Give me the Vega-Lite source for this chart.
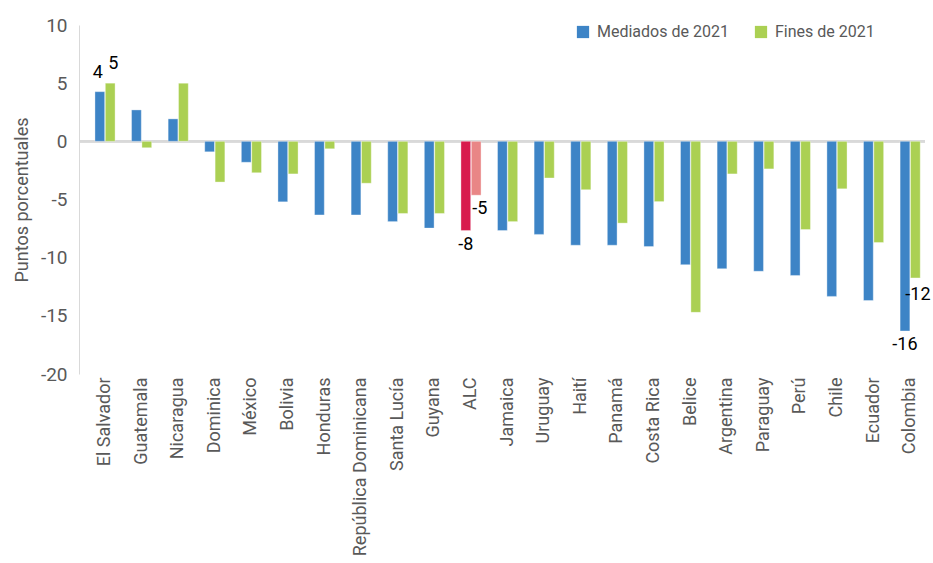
{
  "$schema": "https://vega.github.io/schema/vega-lite/v6.json",
  "width": 846,
  "height": 349,
  "autosize": {"type": "none"},
  "padding": {"left": 79, "top": 25, "right": 8, "bottom": 189},
  "background": "white",
  "config": {
    "view": {"stroke": null},
    "font": "Roboto",
    "text": {"font": "Roboto"}
  },
  "data": {
    "values": [
      {"pais": "El Salvador", "serie": "Mediados de 2021", "clave": "Mediados de 2021", "valor": 4.27, "etiqueta": "4"},
      {"pais": "El Salvador", "serie": "Fines de 2021", "clave": "Fines de 2021", "valor": 5.0, "etiqueta": "5"},
      {"pais": "Guatemala", "serie": "Mediados de 2021", "clave": "Mediados de 2021", "valor": 2.7, "etiqueta": null},
      {"pais": "Guatemala", "serie": "Fines de 2021", "clave": "Fines de 2021", "valor": -0.55, "etiqueta": null},
      {"pais": "Nicaragua", "serie": "Mediados de 2021", "clave": "Mediados de 2021", "valor": 1.93, "etiqueta": null},
      {"pais": "Nicaragua", "serie": "Fines de 2021", "clave": "Fines de 2021", "valor": 5.0, "etiqueta": null},
      {"pais": "Dominica", "serie": "Mediados de 2021", "clave": "Mediados de 2021", "valor": -0.9, "etiqueta": null},
      {"pais": "Dominica", "serie": "Fines de 2021", "clave": "Fines de 2021", "valor": -3.5, "etiqueta": null},
      {"pais": "México", "serie": "Mediados de 2021", "clave": "Mediados de 2021", "valor": -1.8, "etiqueta": null},
      {"pais": "México", "serie": "Fines de 2021", "clave": "Fines de 2021", "valor": -2.7, "etiqueta": null},
      {"pais": "Bolivia", "serie": "Mediados de 2021", "clave": "Mediados de 2021", "valor": -5.2, "etiqueta": null},
      {"pais": "Bolivia", "serie": "Fines de 2021", "clave": "Fines de 2021", "valor": -2.8, "etiqueta": null},
      {"pais": "Honduras", "serie": "Mediados de 2021", "clave": "Mediados de 2021", "valor": -6.33, "etiqueta": null},
      {"pais": "Honduras", "serie": "Fines de 2021", "clave": "Fines de 2021", "valor": -0.64, "etiqueta": null},
      {"pais": "República Dominicana", "serie": "Mediados de 2021", "clave": "Mediados de 2021", "valor": -6.33, "etiqueta": null},
      {"pais": "República Dominicana", "serie": "Fines de 2021", "clave": "Fines de 2021", "valor": -3.6, "etiqueta": null},
      {"pais": "Santa Lucía", "serie": "Mediados de 2021", "clave": "Mediados de 2021", "valor": -6.9, "etiqueta": null},
      {"pais": "Santa Lucía", "serie": "Fines de 2021", "clave": "Fines de 2021", "valor": -6.2, "etiqueta": null},
      {"pais": "Guyana", "serie": "Mediados de 2021", "clave": "Mediados de 2021", "valor": -7.46, "etiqueta": null},
      {"pais": "Guyana", "serie": "Fines de 2021", "clave": "Fines de 2021", "valor": -6.2, "etiqueta": null},
      {"pais": "ALC", "serie": "Mediados de 2021", "clave": "ALC Mediados", "valor": -7.67, "etiqueta": "-8"},
      {"pais": "ALC", "serie": "Fines de 2021", "clave": "ALC Fines", "valor": -4.63, "etiqueta": "-5"},
      {"pais": "Jamaica", "serie": "Mediados de 2021", "clave": "Mediados de 2021", "valor": -7.67, "etiqueta": null},
      {"pais": "Jamaica", "serie": "Fines de 2021", "clave": "Fines de 2021", "valor": -6.9, "etiqueta": null},
      {"pais": "Uruguay", "serie": "Mediados de 2021", "clave": "Mediados de 2021", "valor": -8.0, "etiqueta": null},
      {"pais": "Uruguay", "serie": "Fines de 2021", "clave": "Fines de 2021", "valor": -3.15, "etiqueta": null},
      {"pais": "Haití", "serie": "Mediados de 2021", "clave": "Mediados de 2021", "valor": -8.93, "etiqueta": null},
      {"pais": "Haití", "serie": "Fines de 2021", "clave": "Fines de 2021", "valor": -4.16, "etiqueta": null},
      {"pais": "Panamá", "serie": "Mediados de 2021", "clave": "Mediados de 2021", "valor": -8.93, "etiqueta": null},
      {"pais": "Panamá", "serie": "Fines de 2021", "clave": "Fines de 2021", "valor": -7.03, "etiqueta": null},
      {"pais": "Costa Rica", "serie": "Mediados de 2021", "clave": "Mediados de 2021", "valor": -9.05, "etiqueta": null},
      {"pais": "Costa Rica", "serie": "Fines de 2021", "clave": "Fines de 2021", "valor": -5.18, "etiqueta": null},
      {"pais": "Belice", "serie": "Mediados de 2021", "clave": "Mediados de 2021", "valor": -10.6, "etiqueta": null},
      {"pais": "Belice", "serie": "Fines de 2021", "clave": "Fines de 2021", "valor": -14.7, "etiqueta": null},
      {"pais": "Argentina", "serie": "Mediados de 2021", "clave": "Mediados de 2021", "valor": -10.95, "etiqueta": null},
      {"pais": "Argentina", "serie": "Fines de 2021", "clave": "Fines de 2021", "valor": -2.8, "etiqueta": null},
      {"pais": "Paraguay", "serie": "Mediados de 2021", "clave": "Mediados de 2021", "valor": -11.17, "etiqueta": null},
      {"pais": "Paraguay", "serie": "Fines de 2021", "clave": "Fines de 2021", "valor": -2.37, "etiqueta": null},
      {"pais": "Perú", "serie": "Mediados de 2021", "clave": "Mediados de 2021", "valor": -11.53, "etiqueta": null},
      {"pais": "Perú", "serie": "Fines de 2021", "clave": "Fines de 2021", "valor": -7.58, "etiqueta": null},
      {"pais": "Chile", "serie": "Mediados de 2021", "clave": "Mediados de 2021", "valor": -13.33, "etiqueta": null},
      {"pais": "Chile", "serie": "Fines de 2021", "clave": "Fines de 2021", "valor": -4.08, "etiqueta": null},
      {"pais": "Ecuador", "serie": "Mediados de 2021", "clave": "Mediados de 2021", "valor": -13.68, "etiqueta": null},
      {"pais": "Ecuador", "serie": "Fines de 2021", "clave": "Fines de 2021", "valor": -8.7, "etiqueta": null},
      {"pais": "Colombia", "serie": "Mediados de 2021", "clave": "Mediados de 2021", "valor": -16.3, "etiqueta": "-16"},
      {"pais": "Colombia", "serie": "Fines de 2021", "clave": "Fines de 2021", "valor": -11.74, "etiqueta": "-12"}
    ]
  },
  "encoding": {
    "x": {
      "field": "pais",
      "type": "nominal",
      "sort": null,
      "scale": {"paddingInner": 0.45, "paddingOuter": 0.283, "align": 0.77},
      "axis": {
        "title": null,
        "domain": false,
        "ticks": false,
        "labelAngle": -90,
        "labelPadding": 3,
        "labelFontSize": 18,
        "labelColor": "#595959",
        "labelFont": "Roboto"
      }
    },
    "xOffset": {
      "field": "serie",
      "type": "nominal",
      "sort": ["Mediados de 2021", "Fines de 2021"],
      "scale": {"paddingInner": 0.06}
    },
    "y": {
      "field": "valor",
      "type": "quantitative",
      "scale": {"domain": [-20, 10], "nice": false, "zero": false},
      "axis": {
        "title": "Puntos porcentuales",
        "titleFontSize": 18,
        "titleFontWeight": "normal",
        "titleColor": "#595959",
        "titleFont": "Roboto",
        "titlePadding": 9,
        "values": [-20, -15, -10, -5, 0, 5, 10],
        "labelExpr": "'' + datum.value",
        "grid": false,
        "ticks": false,
        "domain": true,
        "domainColor": "#d9d9d9",
        "domainWidth": 1,
        "labelFontSize": 19,
        "labelColor": "#595959",
        "labelFont": "Roboto",
        "labelPadding": 12
      }
    }
  },
  "layer": [
    {
      "mark": {"type": "rule", "color": "#d9d9d9", "strokeWidth": 2},
      "encoding": {"y": {"datum": 0}, "x": null, "xOffset": null}
    },
    {
      "mark": {"type": "bar", "stroke": "#ffffff", "strokeOpacity": 0.35, "strokeWidth": 1},
      "encoding": {
        "color": {
          "field": "clave",
          "type": "nominal",
          "scale": {
            "domain": ["Mediados de 2021", "Fines de 2021", "ALC Mediados", "ALC Fines"],
            "range": ["#3d84c6", "#abd053", "#d81b4d", "#e98686"]
          },
          "legend": {
            "values": ["Mediados de 2021", "Fines de 2021"],
            "title": null,
            "orient": "none",
            "legendX": 496,
            "legendY": -1,
            "direction": "horizontal",
            "symbolType": "square",
            "symbolSize": 150,
            "symbolStrokeWidth": 0,
            "labelFontSize": 16,
            "labelColor": "#595959",
            "labelFont": "Roboto",
            "labelOffset": 6,
            "columnPadding": 24
          }
        }
      }
    },
    {
      "transform": [{"filter": "datum.etiqueta != null && datum.valor > 0 && datum.serie == 'Mediados de 2021'"}],
      "mark": {"type": "text", "fontSize": 18, "color": "#000000", "baseline": "alphabetic", "dy": -14, "dx": -2},
      "encoding": {"text": {"field": "etiqueta"}}
    },
    {
      "transform": [{"filter": "datum.etiqueta != null && datum.valor > 0 && datum.serie == 'Fines de 2021'"}],
      "mark": {"type": "text", "fontSize": 18, "color": "#000000", "baseline": "alphabetic", "dy": -14, "dx": 3},
      "encoding": {"text": {"field": "etiqueta"}}
    },
    {
      "transform": [{"filter": "datum.etiqueta != null && datum.valor < 0 && datum.serie == 'Mediados de 2021'"}],
      "mark": {"type": "text", "fontSize": 18, "color": "#000000", "baseline": "top", "dy": 5},
      "encoding": {"text": {"field": "etiqueta"}}
    },
    {
      "transform": [{"filter": "datum.etiqueta != null && datum.valor < 0 && datum.serie == 'Fines de 2021' && datum.pais == 'ALC'"}],
      "mark": {"type": "text", "fontSize": 18, "color": "#000000", "baseline": "top", "align": "left", "dx": -4, "dy": 5},
      "encoding": {"text": {"field": "etiqueta"}}
    },
    {
      "transform": [{"filter": "datum.etiqueta != null && datum.valor < 0 && datum.serie == 'Fines de 2021' && datum.pais != 'ALC'"}],
      "mark": {"type": "text", "fontSize": 18, "color": "#000000", "baseline": "top", "align": "left", "dx": -10, "dy": 8},
      "encoding": {"text": {"field": "etiqueta"}}
    }
  ]
}
